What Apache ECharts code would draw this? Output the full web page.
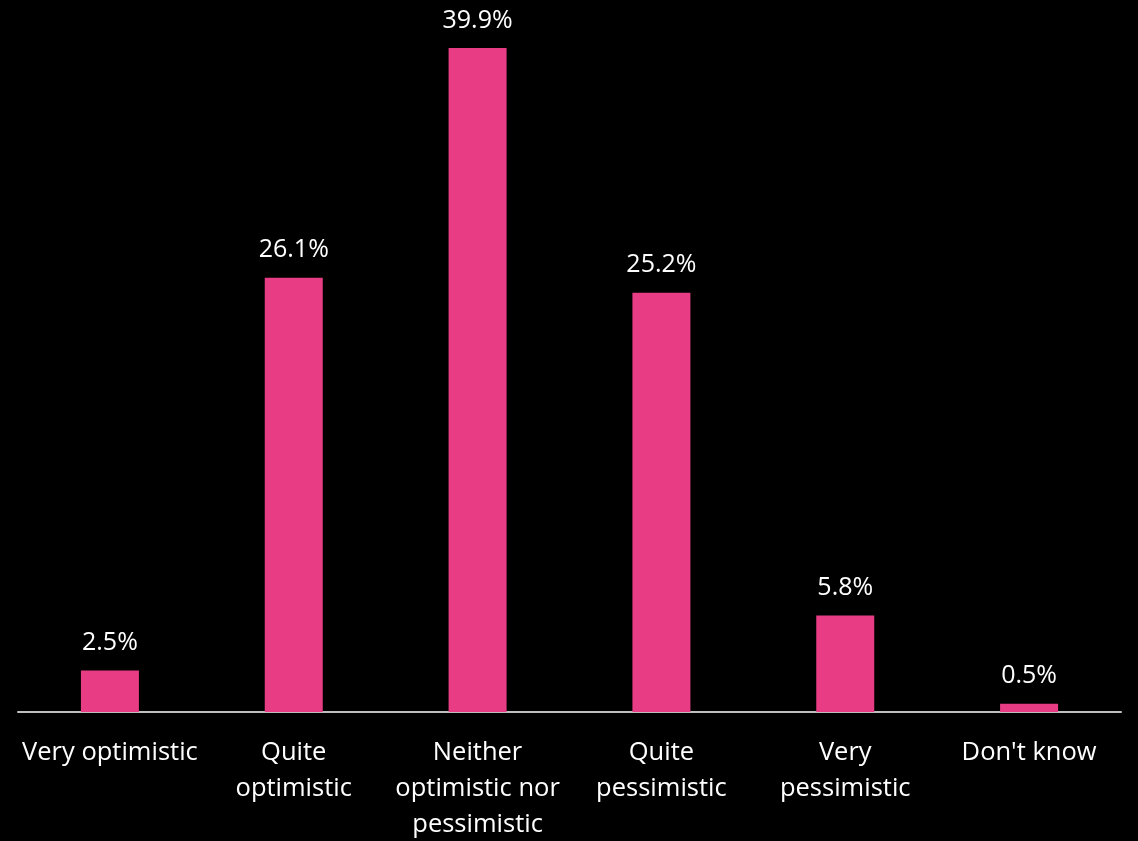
<!DOCTYPE html>
<html>
<head>
<meta charset="utf-8">
<script src="https://cdn.jsdelivr.net/npm/echarts@6/dist/echarts.min.js"></script>
<style>
  html, body { margin: 0; padding: 0; background: #000; }
  #chart { width: 1138px; height: 841px; }
</style>
</head>
<body>
<div id="chart"></div>
<script>
// Survey answers and their share of respondents (%)
const categories = [
  'Very optimistic',
  'Quite\noptimistic',
  'Neither\noptimistic nor\npessimistic',
  'Quite\npessimistic',
  'Very\npessimistic',
  "Don't know"
];
const shares = [2.5, 26.1, 39.9, 25.2, 5.8, 0.5];

const chart = echarts.init(document.getElementById('chart'));
chart.setOption({
  backgroundColor: '#000000',
  animation: false,
  grid: { left: 18, right: 17, top: 46.4, bottom: 129, outerBoundsMode: 'none', containLabel: false },
  xAxis: {
    type: 'category',
    data: categories,
    axisLine: { lineStyle: { color: '#BFBFBF', width: 2 } },
    axisTick: { show: false },
    axisLabel: {
      color: '#FFFFFF',
      fontFamily: 'Open Sans',
      fontSize: 25.5,
      lineHeight: 36,
      margin: 23,
      interval: 0
    }
  },
  yAxis: {
    type: 'value',
    min: 0,
    max: 40,
    show: false,
    splitLine: { show: false }
  },
  series: [{
    type: 'bar',
    data: shares,
    barWidth: 58,
    itemStyle: { color: '#E83C84' },
    label: {
      show: true,
      position: 'top',
      distance: 15,
      color: '#FFFFFF',
      fontFamily: 'Open Sans',
      fontSize: 25,
      formatter: p => p.value.toFixed(1) + '%'
    }
  }]
});
</script>
</body>
</html>
